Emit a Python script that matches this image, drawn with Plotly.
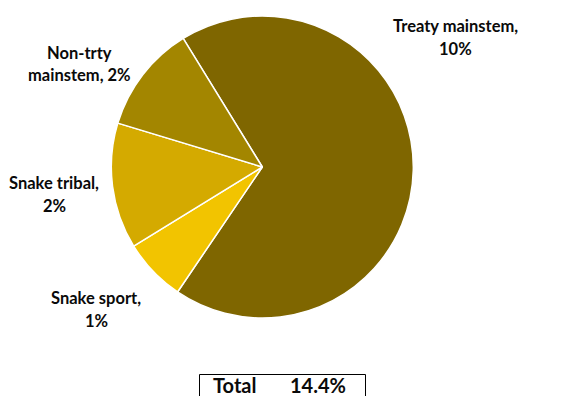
import plotly.graph_objects as go

# Data (harvest rate components, % of run)
categories = ["Treaty mainstem", "Snake sport", "Snake tribal", "Non-trty mainstem"]
values = [9.83, 0.97, 1.94, 1.66]
colors = ["#7F6600", "#F2C400", "#D4AA00", "#A38600"]
total_label = "Total"
total_value = 14.4

W, H = 571, 396
cx, cy, r = 262.3, 167.0, 151.0

fig = go.Figure(go.Pie(
    labels=categories,
    values=values,
    sort=False,
    direction="clockwise",
    rotation=-31.6,
    marker=dict(colors=colors, line=dict(color="white", width=1.5)),
    textinfo="none",
    hoverinfo="label+value",
    showlegend=False,
    domain=dict(x=[(cx - r) / W, (cx + r) / W], y=[(H - cy - r) / H, (H - cy + r) / H]),
))

# label lines: (line1, line2) built from data
def label_lines(name, v):
    pct = f"{round(v):.0f}%"
    if name == "Non-trty mainstem":
        a, b = name.split(" ", 1)
        return a, f"{b}, {pct}"
    return f"{name},", pct

label_pos = {  # centre of label block in pixels (x, y from top)
    "Treaty mainstem": (455, 37),
    "Non-trty mainstem": (79, 64),
    "Snake tribal": (54, 194),
    "Snake sport": (96, 309),
}
font = dict(family="Lato, Open Sans, sans-serif", size=16.5, color="#0a0a0a")
annotations = []
for name, v in zip(categories, values):
    l1, l2 = label_lines(name, v)
    px, py = label_pos[name]
    for txt, dy in ((l1, -11.5), (l2, 11.5)):
        annotations.append(dict(
            x=px / W, y=1 - (py + dy) / H, xref="paper", yref="paper",
            text=f"<b>{txt}</b>", showarrow=False, font=font,
            xanchor="center", yanchor="middle",
        ))

tfont = dict(family="Lato, sans-serif", size=20, color="#0a0a0a")
annotations.append(dict(x=234 / W, y=1 - 384.5 / H, xref="paper", yref="paper",
                        text=f"<b>{total_label}</b>", showarrow=False, font=tfont,
                        xanchor="center", yanchor="middle"))
annotations.append(dict(x=317.5 / W, y=1 - 384.5 / H, xref="paper", yref="paper",
                        text=f"<b>{total_value:.1f}%</b>", showarrow=False, font=tfont,
                        xanchor="center", yanchor="middle"))

fig.update_layout(
    width=W, height=H,
    margin=dict(l=0, r=0, t=0, b=0),
    paper_bgcolor="white", plot_bgcolor="white",
    annotations=annotations,
    shapes=[dict(type="rect", xref="paper", yref="paper",
                 x0=199.5 / W, x1=365.5 / W, y0=1 - 374.5 / H, y1=-0.2,
                 line=dict(color="black", width=1), fillcolor="rgba(0,0,0,0)")],
)

fig.write_html("out.html")
